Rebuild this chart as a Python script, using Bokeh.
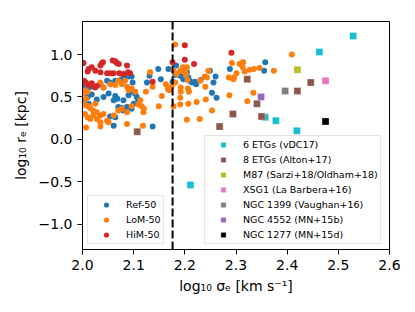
import numpy as np
from bokeh.plotting import figure
from bokeh.models import Span, Legend, LegendItem, FixedTicker
from bokeh.embed import file_html
from bokeh.resources import INLINE

# ---------------- data ----------------
ref_x = [2.001, 2.010, 2.015, 2.021, 2.035, 2.041, 2.048, 2.054, 2.064, 2.074,
         2.080, 2.090, 2.096, 2.018, 2.028, 2.041, 2.051, 2.061, 2.068, 2.064,
         2.070, 2.077, 2.080, 2.087, 2.054, 2.064, 2.061, 2.080, 2.090, 2.096,
         2.103, 2.098, 2.106, 2.109, 2.126, 2.131, 2.148, 2.137, 2.153, 2.168,
         2.181, 2.191, 2.197, 2.204, 2.209, 2.214, 2.220, 2.002, 2.010, 2.012,
         2.096, 2.100, 2.183, 2.189, 2.207, 2.176, 2.222, 2.231, 2.249, 2.260,
         2.256, 2.253, 2.262, 2.288, 2.357, 2.355]
ref_y = [0.61, 0.60, 0.62, 0.62, 0.65, 0.61, 0.69, 0.67, 0.69, 0.70,
         0.73, 0.74, 0.74, 0.53, 0.47, 0.50, 0.54, 0.46, 0.48, 0.51,
         0.38, 0.37, 0.34, 0.38, 0.27, 0.26, 0.16, 0.46, 0.52, 0.56,
         0.54, 0.67, 0.50, 0.46, 0.67, 0.75, 0.83, 0.15, 0.71, 0.83,
         0.76, 0.75, 0.71, 0.79, 0.69, 0.67, 0.68, 0.46, 0.50, 0.42,
         0.36, 0.42, 0.87, 0.77, 0.73, 0.68, 0.65, 0.70, 0.81, 0.74,
         0.67, 0.55, 0.49, 0.83, 0.91, 0.81]

lom_x = [2.002, 2.007, 2.012, 2.015, 2.021, 2.028, 2.035, 2.005, 2.010, 2.015,
         2.021, 2.028, 2.035, 2.007, 2.035, 2.048, 2.002, 2.005, 2.010, 2.007,
         2.025, 2.041, 2.051, 2.061, 2.070, 2.077, 2.087, 2.087, 2.035, 2.041,
         2.054, 2.064, 2.070, 2.077, 2.083, 2.087, 2.090, 2.096, 2.103, 2.113,
         2.109, 2.116, 2.119, 2.120, 2.096, 2.118, 2.124, 2.132, 2.137, 2.149,
         2.181, 2.178, 2.181, 2.174, 2.163, 2.184, 2.191, 2.196, 2.201, 2.204,
         2.202, 2.205, 2.206, 2.178, 2.191, 2.207, 2.223, 2.204, 2.229, 2.167,
         2.170, 2.155, 2.192, 2.192, 2.191, 2.208, 2.239, 2.246, 2.243, 2.241,
         2.253, 2.286, 2.292, 2.301, 2.307, 2.311, 2.314, 2.313, 2.317, 2.327,
         2.335, 2.346, 2.374, 2.409, 2.334, 2.322, 2.287, 2.295, 2.296, 2.240,
         2.230]
lom_y = [0.42, 0.40, 0.39, 0.37, 0.34, 0.32, 0.28, 0.30, 0.26, 0.24,
         0.28, 0.24, 0.20, 0.14, 0.15, 0.22, 0.54, 0.58, 0.56, 0.48,
         0.42, 0.30, 0.20, 0.28, 0.34, 0.36, 0.32, 0.18, 0.67, 0.61,
         0.65, 0.64, 0.69, 0.65, 0.69, 0.62, 0.58, 0.60, 0.56, 0.46,
         0.41, 0.39, 0.32, 0.36, 0.39, 0.16, 0.56, 0.79, 0.62, 0.39,
         1.12, 0.81, 0.67, 0.62, 0.65, 0.77, 0.81, 0.85, 0.79, 0.85,
         0.76, 0.70, 0.60, 0.39, 0.41, 0.42, 0.44, 0.23, 0.24, 0.59,
         0.58, 0.51, 0.61, 0.56, 0.49, 0.56, 0.74, 0.81, 0.73, 0.47,
         0.34, 0.73, 0.90, 0.78, 0.89, 0.90, 0.91, 0.85, 0.80, 0.82,
         0.83, 0.84, 0.81, 1.00, 0.55, 0.45, 0.52, 0.71, 0.73, 0.62,
         0.69]

him_x = [2.002, 2.012, 2.018, 2.010, 2.025, 2.035, 2.038, 2.040, 2.035, 2.048,
         2.054, 2.059, 2.064, 2.067, 2.071, 2.061, 2.072, 2.080, 2.089, 2.093,
         2.006, 2.010, 2.018, 2.028, 2.025, 2.003, 2.137, 2.087, 2.015, 2.200,
         2.200, 2.218, 2.176, 2.291]
him_y = [0.90, 0.83, 0.85, 0.80, 0.81, 0.87, 0.90, 0.91, 0.79, 0.78,
         0.78, 0.93, 0.92, 0.90, 0.89, 0.78, 0.78, 0.77, 0.79, 0.78,
         0.67, 0.65, 0.66, 0.63, 0.61, 0.69, 0.68, 0.87, 0.64, 1.11,
         0.94, 0.89, 0.91, 1.02]

vdc17_x = [2.529, 2.463, 2.357, 2.378, 2.419, 2.211]
vdc17_y = [1.22, 1.03, 0.26, 0.22, 0.10, -0.54]
alton_x = [2.107, 2.294, 2.268, 2.322, 2.446, 2.420, 2.341, 2.350]
alton_y = [0.09, 0.30, 0.15, 0.71, 0.67, 0.57, 0.42, 0.27]
m87_x, m87_y = [2.420], [0.82]
xsg1_x, xsg1_y = [2.475], [0.69]
n1399_x, n1399_y = [2.396], [0.57]
n4552_x, n4552_y = [2.349], [0.50]
n1277_x, n1277_y = [2.475], [0.21]

sigma_cut = np.log10(150.0)

x_ticks = [2.0, 2.1, 2.2, 2.3, 2.4, 2.5, 2.6]
x_tick_labels = ["2.0", "2.1", "2.2", "2.3", "2.4", "2.5", "2.6"]
y_ticks = [-1.0, -0.5, 0.0, 0.5, 1.0]
y_tick_labels = ["\u22121.0", "\u22120.5", "0.0", "0.5", "1.0"]

sim_labels = ["Ref-50", "LoM-50", "HiM-50"]
obs_labels = ["6 ETGs (vDC17)", "8 ETGs (Alton+17)", "M87 (Sarzi+18/Oldham+18)",
              "XSG1 (La Barbera+16)", "NGC 1399 (Vaughan+16)",
              "NGC 4552 (MN+15b)", "NGC 1277 (MN+15d)"]

# ---------------- figure ----------------
FONT = "DejaVu Sans"
p = figure(output_backend="svg", toolbar_location=None,
           frame_width=307, frame_height=228,
           x_range=(2.0, 2.6), y_range=(-1.3, 1.39))
p.min_border_left = 82
p.min_border_right = 18
p.min_border_top = 21
p.min_border_bottom = 55
p.background_fill_color = "white"
p.border_fill_color = "white"
p.outline_line_color = "black"
p.outline_line_width = 1
p.grid.visible = False

p.xaxis.ticker = FixedTicker(ticks=x_ticks)
p.yaxis.ticker = FixedTicker(ticks=y_ticks)
p.xaxis.major_label_overrides = {t: s for t, s in zip(x_ticks, x_tick_labels)}
p.yaxis.major_label_overrides = {t: s for t, s in zip(y_ticks, y_tick_labels)}
for ax in (p.xaxis, p.yaxis):
    ax.minor_tick_line_color = None
    ax.major_tick_in = 0
    ax.major_tick_out = 5
    ax.major_tick_line_color = "black"
    ax.axis_line_color = "black"
    ax.major_label_text_font = FONT
    ax.major_label_text_font_size = "14px"
    ax.major_label_text_color = "black"
    ax.major_label_standoff = 5
    ax.axis_label_text_font = FONT
    ax.axis_label_text_font_size = "14px"
    ax.axis_label_text_font_style = "normal"
    ax.axis_label_text_color = "black"
p.xaxis.axis_label = "log\u2081\u2080 \u03c3\u2091 [km s\u207b\u00b9]"
p.yaxis.axis_label = "log\u2081\u2080 r\u2091 [kpc]"
p.xaxis.axis_label_standoff = 5
p.yaxis.axis_label_standoff = 7

# simulations
r_ref = p.scatter(ref_x, ref_y, marker="circle", size=6, color="#1f77b4", line_color=None)
r_lom = p.scatter(lom_x, lom_y, marker="circle", size=6, color="#ff7f0e", line_color=None)
r_him = p.scatter(him_x, him_y, marker="circle", size=6, color="#d62728", line_color=None)

p.add_layout(Span(location=sigma_cut, dimension="height", line_color="black",
                  line_width=2, line_dash="8 3"))

# observations
obs = [(vdc17_x, vdc17_y, "#17becf"), (alton_x, alton_y, "#8c564b"),
       (m87_x, m87_y, "#bcbd22"), (xsg1_x, xsg1_y, "#e377c2"),
       (n1399_x, n1399_y, "#7f7f7f"), (n4552_x, n4552_y, "#9467bd"),
       (n1277_x, n1277_y, "#000000")]
obs_r = []
for xs, ys, c in obs:
    obs_r.append(p.scatter(xs, ys, marker="square", size=7, fill_color=c,
                           line_color="white", line_alpha=0.5, line_width=0.6))

def style_legend(lg):
    lg.label_text_font = FONT
    lg.label_text_font_size = "9.5px"
    lg.label_text_color = "black"
    lg.glyph_width = 32
    lg.glyph_height = 13
    lg.label_height = 13
    lg.label_standoff = 4
    lg.spacing = 2
    lg.padding = 2
    lg.margin = 0
    lg.border_line_color = "#cccccc"
    lg.border_line_width = 1
    lg.background_fill_alpha = 0.8

leg1 = Legend(items=[LegendItem(label=l, renderers=[r]) for l, r in
                     zip(sim_labels, [r_ref, r_lom, r_him])],
              location=(5, 5))
style_legend(leg1)
leg2 = Legend(items=[LegendItem(label=l, renderers=[r]) for l, r in
                     zip(obs_labels, obs_r)],
              location=(122, 5))
style_legend(leg2)
p.add_layout(leg1, "center")
p.add_layout(leg2, "center")

open("out.html", "w").write(file_html(p, INLINE))
